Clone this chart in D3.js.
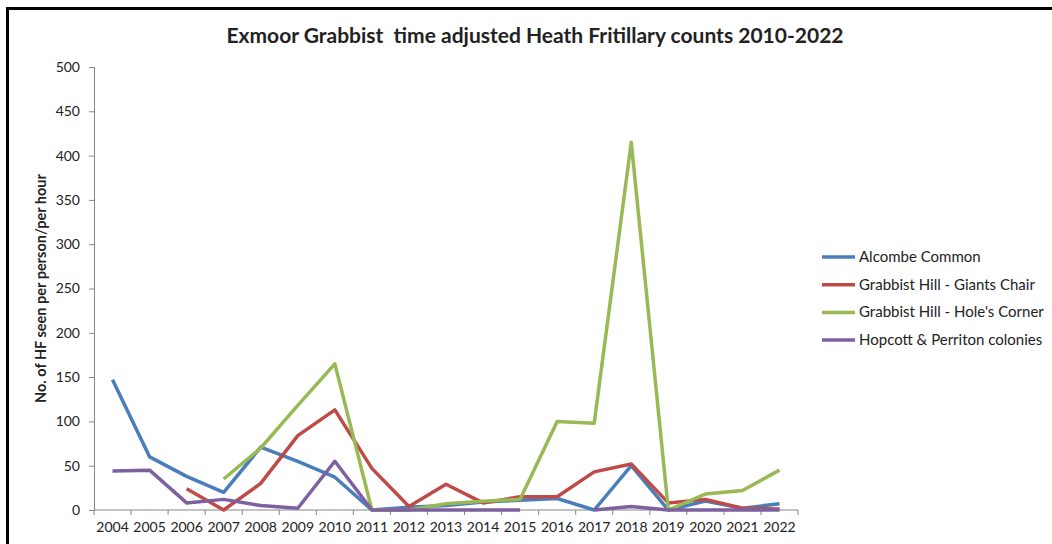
<!DOCTYPE html>
<html>
<head>
<meta charset="utf-8">
<script src="https://cdn.jsdelivr.net/npm/d3@7"></script>
<style>
  html, body { margin: 0; padding: 0; background: #fff; }
  #chart { width: 1052px; height: 544px; }
  text { font-family: Lato, "Open Sans", sans-serif; fill: #222; }
</style>
</head>
<body>
<div id="chart"></div>
<script>
// years on the category axis
const years = ["2004","2005","2006","2007","2008","2009","2010","2011","2012","2013",
               "2014","2015","2016","2017","2018","2019","2020","2021","2022"];

// time adjusted counts per site (null = not surveyed)
const alcombe   = [147, 60, 38, 20, 71, 55, 37, 0, 3, 5, 9, 11, 13, 0, 50, 0, 10, 2, 7];
const giants    = [null, null, 24, 0, 30, 84, 113, 47, 4, 29, 8, 15, 15, 43, 52, 8, 12, 2, 1];
const holes     = [null, null, null, 35, 70, 118, 165, 0, 0, 7, 10, 12, 100, 98, 415, 0, 18, 22, 45];
const hopcott   = [44, 45, 8, 12, 5, 2, 55, 0, 0, 0, 0, 0, null, 0, 4, 0, 0, 0, 0];

const seriesNames = ["Alcombe Common", "Grabbist Hill - Giants Chair",
                     "Grabbist Hill - Hole's Corner", "Hopcott & Perriton colonies"];
const seriesColors = ["#4a7ebb", "#be4b48", "#98b954", "#7d60a0"];
const yTicks = [0, 50, 100, 150, 200, 250, 300, 350, 400, 450, 500];

const series = [alcombe, giants, holes, hopcott].map((vals, i) => ({
  name: seriesNames[i], color: seriesColors[i],
  values: vals.map((v, j) => ({ year: years[j], v }))
}));

const W = 1052, H = 544;
const margin = { left: 94, right: 254, top: 67, bottom: 34 };

const svg = d3.select('#chart').append('svg')
  .attr('width', W).attr('height', H);

// outer frame (only left and top edges visible in the picture)
svg.append('path')
  .attr('d', `M7.5,${H} V8.5 H${W}`)
  .attr('fill', 'none').attr('stroke', '#000').attr('stroke-width', 3);

const x = d3.scaleBand().domain(years).range([margin.left, W - margin.right]);
const y = d3.scaleLinear().domain([0, 500]).range([H - margin.bottom, margin.top]);

// y axis
const yAxis = svg.append('g')
  .attr('transform', `translate(${margin.left},0)`)
  .call(d3.axisLeft(y).tickValues(yTicks).tickSize(5).tickPadding(9).tickFormat(d3.format('d')));
yAxis.selectAll('path, line').attr('stroke', '#868686');
yAxis.selectAll('text').style('font-size', '14px').attr('fill', '#222');

// x axis, ticks between categories
const xAxis = svg.append('g')
  .attr('transform', `translate(0,${y(0)})`);
xAxis.append('line')
  .attr('x1', margin.left).attr('x2', W - margin.right)
  .attr('stroke', '#868686');
xAxis.selectAll('line.tick')
  .data(years.concat(['end']))
  .join('line')
  .attr('class', 'tick')
  .attr('x1', (d, i) => i < years.length ? x(d) : x(years[years.length - 1]) + x.bandwidth())
  .attr('x2', (d, i) => i < years.length ? x(d) : x(years[years.length - 1]) + x.bandwidth())
  .attr('y1', 0).attr('y2', 5)
  .attr('stroke', '#868686');
xAxis.selectAll('text')
  .data(years)
  .join('text')
  .attr('x', d => x(d) + x.bandwidth() / 2)
  .attr('y', 22)
  .attr('text-anchor', 'middle')
  .style('font-size', '14px')
  .text(d => d);

// lines
const line = d3.line()
  .defined(d => d.v !== null)
  .x(d => x(d.year) + x.bandwidth() / 2)
  .y(d => y(d.v));

svg.append('g').selectAll('path')
  .data(series)
  .join('path')
  .attr('d', d => line(d.values))
  .attr('fill', 'none')
  .attr('stroke', d => d.color)
  .attr('stroke-width', 3.5)
  .attr('stroke-linejoin', 'round');

// title
svg.append('text')
  .attr('x', 535).attr('y', 43)
  .attr('text-anchor', 'middle')
  .style('font-size', '21px').style('font-weight', 'bold')
  .style('white-space', 'pre')
  .attr('fill', '#000')
  .text('Exmoor Grabbist  time adjusted Heath Fritillary counts 2010-2022');

// y axis title
svg.append('text')
  .attr('transform', `translate(46,${(y(0) + y(500)) / 2}) rotate(-90)`)
  .attr('text-anchor', 'middle')
  .style('font-size', '14.5px').style('font-weight', 'bold')
  .text('No. of HF seen per person/per hour');

// legend
const legend = svg.append('g').attr('transform', 'translate(822,257)');
const items = legend.selectAll('g')
  .data(series)
  .join('g')
  .attr('transform', (d, i) => `translate(0,${i * 27.7})`);
items.append('line')
  .attr('x1', 0).attr('x2', 33)
  .attr('stroke', d => d.color).attr('stroke-width', 3.5);
items.append('text')
  .attr('x', 37).attr('y', 5)
  .style('font-size', '15px')
  .text(d => d.name);
</script>
</body>
</html>
